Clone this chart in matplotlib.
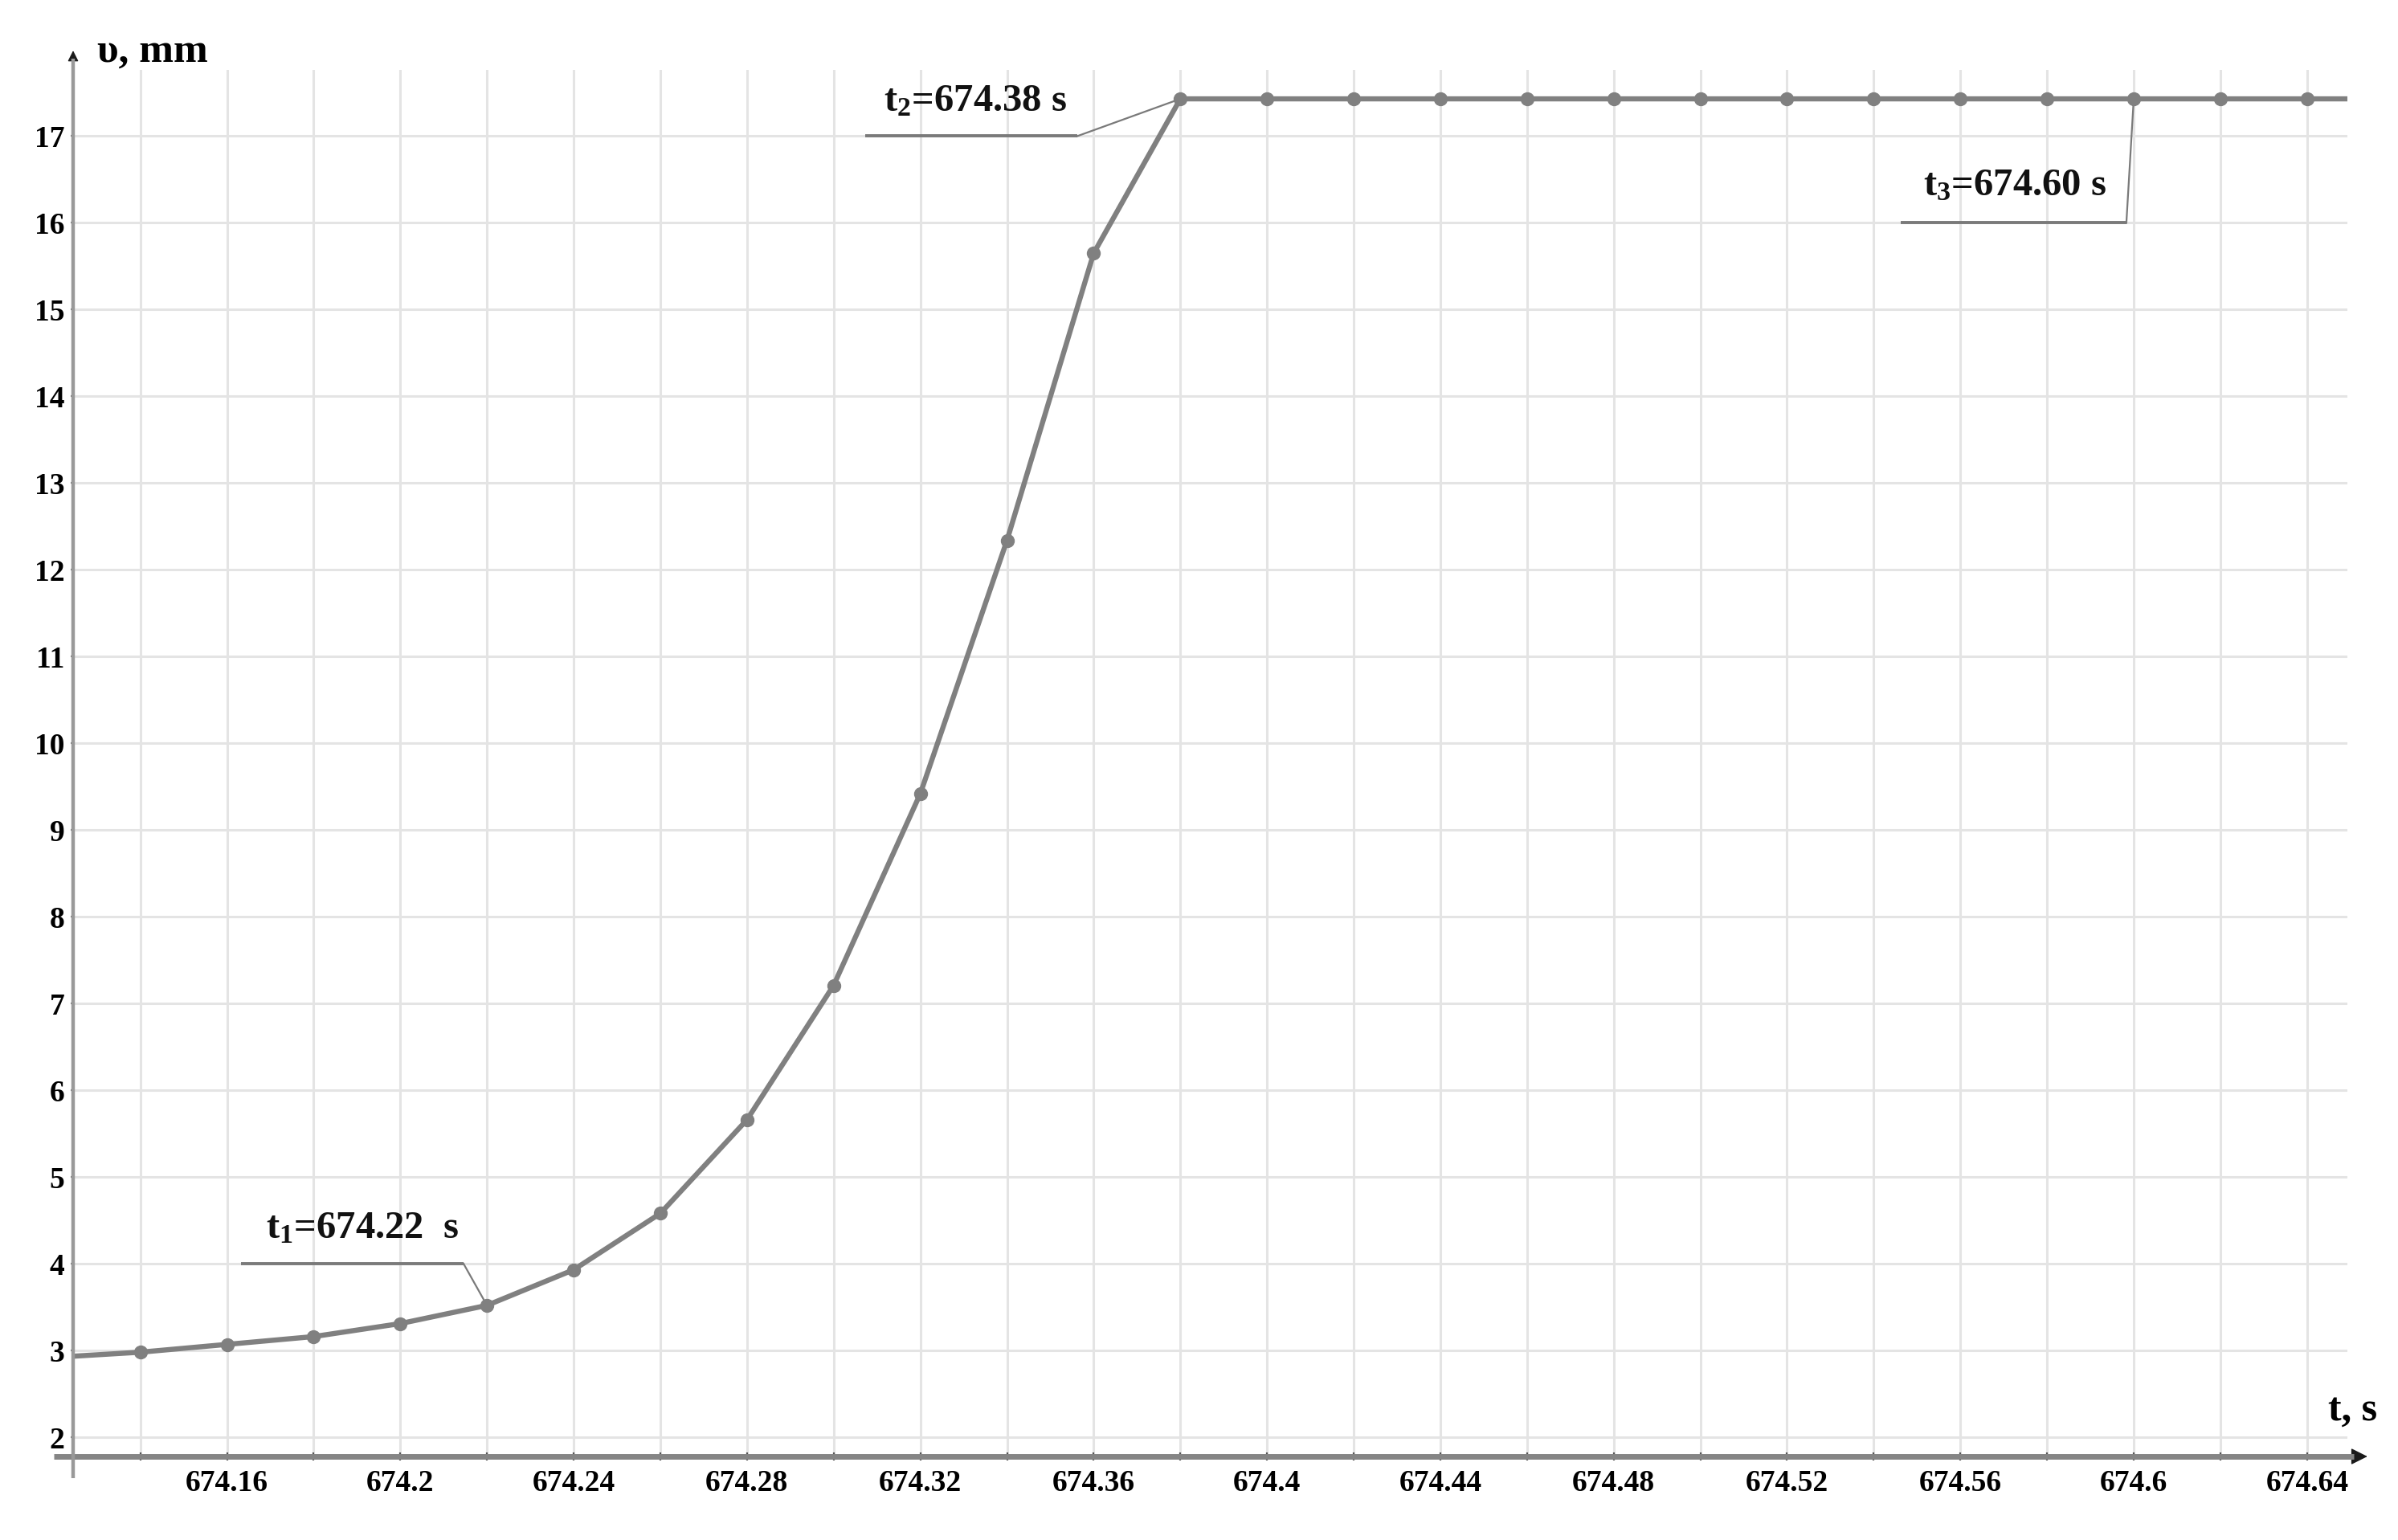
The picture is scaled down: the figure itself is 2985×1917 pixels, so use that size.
import matplotlib
matplotlib.use("Agg")
import matplotlib.pyplot as plt

plt.rcParams["font.family"] = ["Liberation Serif", "DejaVu Serif"]
plt.rcParams["font.weight"] = "bold"
plt.rcParams["mathtext.fontset"] = "custom"
plt.rcParams["mathtext.rm"] = "Liberation Serif:bold"
plt.rcParams["mathtext.it"] = "Liberation Serif:bold"
plt.rcParams["mathtext.bf"] = "Liberation Serif:bold"

# deflection vs time
time_s = [674.12, 674.14, 674.16, 674.18, 674.20, 674.22, 674.24, 674.26,
          674.28, 674.30, 674.32, 674.34, 674.36, 674.38, 674.40, 674.42,
          674.44, 674.46, 674.48, 674.50, 674.52, 674.54, 674.56, 674.58,
          674.60, 674.62, 674.64, 674.66]
deflection_mm = [2.92, 2.98, 3.07, 3.16, 3.31, 3.52, 3.93, 4.58,
                 5.66, 7.21, 9.42, 12.34, 15.65, 17.43, 17.43, 17.43,
                 17.43, 17.43, 17.43, 17.43, 17.43, 17.43, 17.43, 17.43,
                 17.43, 17.43, 17.43, 17.43]

x_ticks = [674.14, 674.16, 674.18, 674.20, 674.22, 674.24, 674.26, 674.28,
           674.30, 674.32, 674.34, 674.36, 674.38, 674.40, 674.42, 674.44,
           674.46, 674.48, 674.50, 674.52, 674.54, 674.56, 674.58, 674.60,
           674.62, 674.64]
x_tick_labels = ["", "674.16", "", "674.2", "", "674.24", "", "674.28",
                 "", "674.32", "", "674.36", "", "674.4", "", "674.44",
                 "", "674.48", "", "674.52", "", "674.56", "", "674.6",
                 "", "674.64"]
y_ticks = [2, 3, 4, 5, 6, 7, 8, 9, 10, 11, 12, 13, 14, 15, 16, 17]

# key moments: label, time, text anchor (x, y), leader start/end x, leader y
events = [
    ("t$_1$=674.22  s", 674.22, 674.1690, 4.29, 674.1632, 674.2146, 4.0),
    ("t$_2$=674.38 s", 674.38, 674.3115, 17.29, 674.3073, 674.3562, 17.0),
    ("t$_3$=674.60 s", 674.60, 674.5515, 16.32, 674.5462, 674.5983, 16.0),
]

fig = plt.figure(figsize=(29.85, 19.17), dpi=100)
ax = fig.add_axes([0.03049, 0.05425, 0.9484, 0.90037])

curve_color = "#808080"
ax.plot(time_s, deflection_mm, color=curve_color, lw=4.6, marker="o",
        markersize=11.5, zorder=4)

ax.set_xlim(674.1245, 674.6493)
ax.set_ylim(1.778, 17.764)
ax.set_xticks(x_ticks)
ax.set_xticklabels(x_tick_labels)
ax.set_yticks(y_ticks)
ax.grid(True, color="#e4e4e4", lw=2.2, zorder=0)
for side in ["top", "right", "bottom", "left"]:
    ax.spines[side].set_visible(False)

ax.tick_params(axis="x", direction="inout", length=7, width=1.6,
               color="#555555", labelsize=27, pad=8)
ax.tick_params(axis="y", direction="out", length=2.5, width=1.6,
               color="#777777", labelsize=27, pad=5)

# axis lines with arrows
ax.plot([-0.0085, 1.003], [0, 0], transform=ax.transAxes, color="#858585",
        lw=5, clip_on=False, zorder=5, solid_capstyle="butt")
ax.annotate("", xy=(1.0088, 0), xytext=(1.0, 0), xycoords="axes fraction",
            arrowprops=dict(arrowstyle="-|>", color="#1a1a1a", lw=1,
                            mutation_scale=32, shrinkA=0, shrinkB=0))
ax.plot([0, 0], [-0.0156, 1.008], transform=ax.transAxes, color="#999999",
        lw=3.2, clip_on=False, zorder=5, solid_capstyle="butt")
ax.annotate("", xy=(0, 1.0139), xytext=(0, 1.006), xycoords="axes fraction",
            arrowprops=dict(arrowstyle="-|>", color="#1a1a1a", lw=1,
                            mutation_scale=20, shrinkA=0, shrinkB=0))

ax.text(0.0105, 1.0058, "υ, mm", transform=ax.transAxes, fontsize=37,
        fontweight="bold", ha="left", va="baseline")
ax.text(0.9915, 0.0261, "t, s", transform=ax.transAxes, fontsize=36,
        fontweight="bold", ha="left", va="baseline")

for label, t_ev, tx, ty, lx0, lx1, ly in events:
    v_ev = deflection_mm[time_s.index(t_ev)]
    ax.plot([lx0, lx1], [ly, ly], color="#7a7a7a", lw=2.8, zorder=3,
            solid_capstyle="butt")
    ax.plot([lx1, t_ev], [ly, v_ev], color="#7a7a7a", lw=1.6, zorder=3)
    ax.text(tx, ty, label, fontsize=35, fontweight="bold", ha="left",
            va="baseline", color="#111111", zorder=6)

fig.savefig("out.png", dpi=100, facecolor="white")
